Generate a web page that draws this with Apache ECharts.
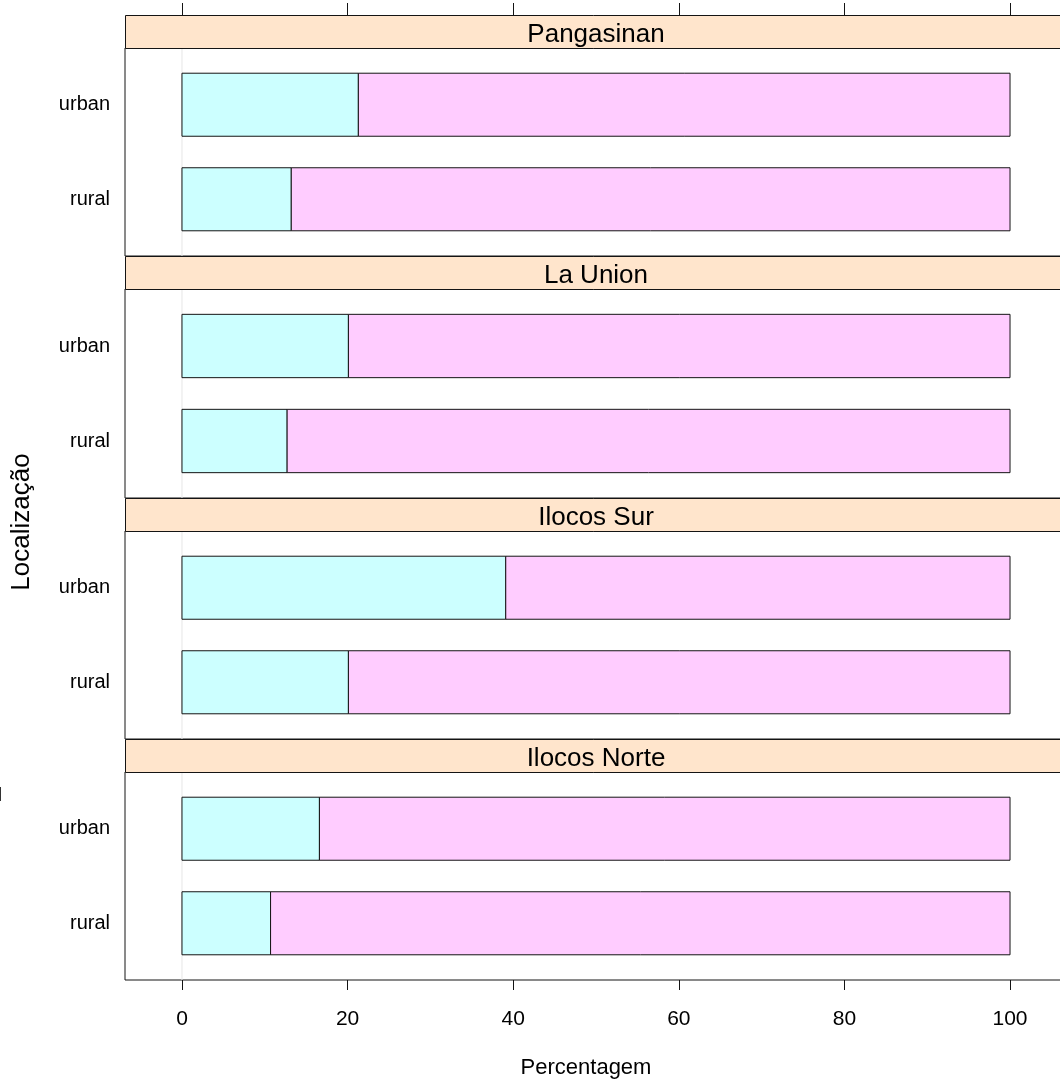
<!DOCTYPE html>
<html>
<head>
<meta charset="utf-8">
<title>Localização por região</title>
<script src="https://cdn.jsdelivr.net/npm/echarts@6/dist/echarts.min.js"></script>
<style>
  html, body { margin: 0; padding: 0; background: #fff; }
  #chart { width: 1060px; height: 1082px; }
</style>
</head>
<body>
<div id="chart"></div>
<script>
// Regions, one panel each, listed top to bottom
const regions = ['Pangasinan', 'La Union', 'Ilocos Sur', 'Ilocos Norte'];
// Locations inside every panel (rural at the bottom, urban above it)
const locations = ['rural', 'urban'];
// Percentages per region (same order as regions)
const firstGroupRural  = [13.2, 12.7, 20.1, 10.7];
const firstGroupUrban  = [21.3, 20.1, 39.1, 16.6];
const secondGroupRural = [86.8, 87.3, 79.9, 89.3];
const secondGroupUrban = [78.7, 79.9, 60.9, 83.4];
// Tick marks on the percentage axis
const xTicks = [0, 20, 40, 60, 80, 100];

// Layout of the trellis
const PLOT_LEFT = 125, PLOT_WIDTH = 942;
const STRIP_H = 33;
const stripTops = [15, 256, 498, 739];
const panelBottoms = [256, 498, 739, 980];
const X_MIN = -6.88, X_MAX = 106.88;
const FILLS = ['#ccffff', '#ffccff'];
const LINE = '#141414';
const FONT = '"Liberation Sans", Arial, Helvetica, sans-serif';

const chart = echarts.init(document.getElementById('chart'), null, { renderer: 'canvas' });

const grids = [{
  left: PLOT_LEFT, width: PLOT_WIDTH, top: stripTops[0], height: panelBottoms[3] - stripTops[0],
  show: false, outerBoundsMode: 'none', containLabel: false
}];
const xAxes = [
  { // bottom scale with labels
    gridIndex: 0, type: 'value', position: 'bottom', min: X_MIN, max: X_MAX,
    axisLine: { show: false },
    axisTick: { show: true, inside: false, length: 10, customValues: xTicks, lineStyle: { color: LINE, width: 1 } },
    axisLabel: { show: true, customValues: xTicks, margin: 29, fontSize: 21, color: '#000', fontFamily: FONT },
    splitLine: { show: false }
  },
  { // top scale, ticks only
    gridIndex: 0, type: 'value', position: 'top', min: X_MIN, max: X_MAX,
    axisLine: { show: false },
    axisTick: { show: true, inside: false, length: 12, customValues: xTicks, lineStyle: { color: LINE, width: 1 } },
    axisLabel: { show: false },
    splitLine: { show: false }
  }
];
const yAxes = [{ gridIndex: 0, type: 'value', show: false, min: 0, max: 1 }];
const series = [];
const graphics = [];

regions.forEach((region, i) => {
  const top = stripTops[i] + STRIP_H;
  const g = i + 1;
  grids.push({
    left: PLOT_LEFT, width: PLOT_WIDTH, top: top, height: panelBottoms[i] - top,
    show: true, borderColor: LINE, borderWidth: 1, backgroundColor: 'transparent',
    outerBoundsMode: 'none', containLabel: false
  });
  xAxes.push({ gridIndex: g, type: 'value', min: X_MIN, max: X_MAX, show: false });
  yAxes.push({
    gridIndex: g, type: 'value', min: 0.4, max: 2.6,
    axisLine: { show: false }, axisTick: { show: false }, splitLine: { show: false },
    axisLabel: {
      show: true, customValues: [1, 2], margin: 15, fontSize: 20, color: '#000', fontFamily: FONT,
      formatter: v => locations[Math.round(v) - 1]
    }
  });

  // light reference line at zero
  series.push({
    type: 'custom', xAxisIndex: g + 1, yAxisIndex: g, silent: true, z: 1,
    data: [[0]],
    renderItem: (params, api) => {
      const a = api.coord([api.value(0), 0.4]);
      const b = api.coord([api.value(0), 2.6]);
      return { type: 'line', shape: { x1: a[0], y1: a[1], x2: b[0], y2: b[1] }, style: { stroke: '#e6e6e6', lineWidth: 1 } };
    }
  });

  // stacked horizontal bars: [start, end, location position, group]
  const rows = [
    [0, firstGroupRural[i], 1, 0],
    [firstGroupRural[i], firstGroupRural[i] + secondGroupRural[i], 1, 1],
    [0, firstGroupUrban[i], 2, 0],
    [firstGroupUrban[i], firstGroupUrban[i] + secondGroupUrban[i], 2, 1]
  ];
  series.push({
    type: 'custom', name: region, xAxisIndex: g + 1, yAxisIndex: g, z: 3,
    data: rows,
    renderItem: (params, api) => {
      const yv = api.value(2);
      const s = api.coord([api.value(0), yv]);
      const e = api.coord([api.value(1), yv]);
      const h = api.size([0, 2 / 3])[1];
      return {
        type: 'rect',
        shape: { x: s[0], y: s[1] - h / 2, width: e[0] - s[0], height: h },
        style: { fill: FILLS[api.value(3)], stroke: LINE, lineWidth: 1 }
      };
    }
  });

  // strip with the region name
  graphics.push({
    type: 'rect', left: PLOT_LEFT, top: stripTops[i], z: 10,
    shape: { width: PLOT_WIDTH, height: STRIP_H },
    style: { fill: '#ffe5cc', stroke: LINE, lineWidth: 1 }
  });
  graphics.push({
    type: 'text', x: 596, y: stripTops[i] + STRIP_H / 2 + 3, z: 11,
    style: { text: region, fontSize: 26, fontFamily: FONT, fill: '#000', align: 'center', verticalAlign: 'middle' }
  });
});

// axis titles
graphics.push({
  type: 'text', x: 586, y: 1068, z: 11,
  style: { text: 'Percentagem', fontSize: 22, fontFamily: FONT, fill: '#000', align: 'center', verticalAlign: 'middle' }
});
graphics.push({
  type: 'text', x: 22, y: 522, rotation: Math.PI / 2, z: 11,
  style: { text: 'Localização', fontSize: 26, fontFamily: FONT, fill: '#000', align: 'center', verticalAlign: 'middle' }
});
// small edge mark at the far left
graphics.push({
  type: 'line', z: 11, shape: { x1: 0.5, y1: 787, x2: 0.5, y2: 801 }, style: { stroke: '#333', lineWidth: 1 }
});

chart.setOption({
  animation: false,
  backgroundColor: '#ffffff',
  grid: grids,
  xAxis: xAxes,
  yAxis: yAxes,
  series: series,
  graphic: graphics
});
</script>
</body>
</html>
